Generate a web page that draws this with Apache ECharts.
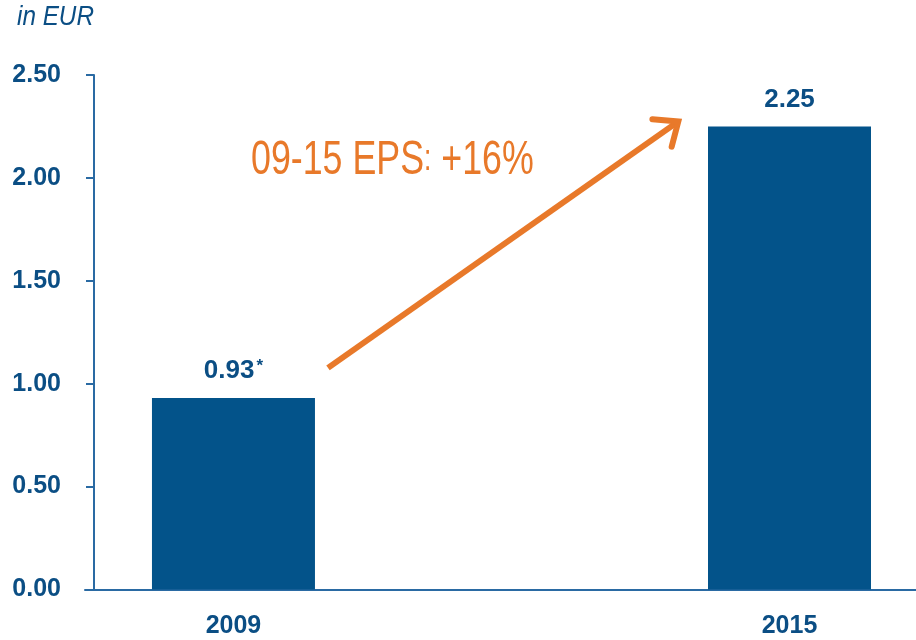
<!DOCTYPE html>
<html>
<head>
<meta charset="utf-8">
<script src="https://cdn.jsdelivr.net/npm/echarts@6/dist/echarts.min.js"></script>
<style>html,body{margin:0;padding:0;background:#fff}#c{width:916px;height:640px}</style>
</head>
<body>
<div id="c"></div>
<script>
const categories = [2009, 2015];
const values = [0.93, 2.25];
const notes = ['*', ''];
const unitLabel = 'in EUR';
const annotation = ['09-15 EPS', ':', ' +16%'];
const arrowFrom = [2010.02, 1.077];
const arrowTo = [2013.8, 2.274];

const BLUE = '#03538A';
const TEXT = '#0B4E84';
const AXIS = '#2A6AA3';
const ORANGE = '#E8792A';
const FONT = '"Liberation Sans", Arial, sans-serif';

const chart = echarts.init(document.getElementById('c'), null, {renderer: 'canvas'});
chart.setOption({
  animation: false,
  grid: {left: 85, right: 0, top: 75, bottom: 50.5, containLabel: false},
  xAxis: {
    type: 'value',
    min: 2007.398, max: 2016.365,
    splitLine: {show: false},
    axisLine: {show: true, lineStyle: {color: AXIS, width: 2}},
    axisTick: {show: false},
    axisLabel: {
      customValues: categories,
      margin: 24,
      color: TEXT, fontWeight: 'bold', fontSize: 25, fontFamily: FONT,
      formatter: v => String(v)
    }
  },
  yAxis: {
    type: 'value', min: 0, max: 2.5, interval: 0.5,
    offset: -9,
    splitLine: {show: false},
    axisLine: {show: true, lineStyle: {color: AXIS, width: 2}},
    axisTick: {show: true, length: 8, lineStyle: {color: AXIS, width: 2}},
    axisLabel: {
      margin: 33,
      color: TEXT, fontWeight: 'bold', fontSize: 25, fontFamily: FONT,
      formatter: v => v.toFixed(2)
    }
  },
  series: [{
    type: 'bar',
    barWidth: 163,
    itemStyle: {color: BLUE},
    data: values.map((v, i) => [categories[i], v]),
    label: {
      show: true, position: 'top', distance: 14,
      formatter: p => '{v|' + p.value[1].toFixed(2) + '}' + (notes[p.dataIndex] ? '{s|' + notes[p.dataIndex] + '}' : ''),
      rich: {
        v: {color: TEXT, fontWeight: 'bold', fontSize: 26, fontFamily: FONT},
        s: {color: TEXT, fontWeight: 'bold', fontSize: 17, fontFamily: FONT, verticalAlign: 'top', padding: [0, 0, 0, 2]}
      }
    }
  }]
});

// arrow anchored in data space
const p0 = chart.convertToPixel({gridIndex: 0}, arrowFrom);
const p1 = chart.convertToPixel({gridIndex: 0}, arrowTo);
const ang = Math.atan2(p1[1] - p0[1], p1[0] - p0[0]);
const headLen = 26, headAng = 0.7;
const h1 = [p1[0] - headLen * Math.cos(ang - headAng), p1[1] - headLen * Math.sin(ang - headAng)];
const h2 = [p1[0] - headLen * Math.cos(ang + headAng), p1[1] - headLen * Math.sin(ang + headAng)];
chart.setOption({
  graphic: [{
    type: 'text', id: 'unit', x: 17, y: 4, scaleX: 0.9,
    style: {text: unitLabel, fill: TEXT, font: 'italic 27px ' + FONT}
  }, {
    type: 'text', id: 'note', x: 251, y: 132, scaleX: 0.73,
    style: {
      text: '{a|' + annotation[0] + '}{b|' + annotation[1] + '}{a|' + annotation[2] + '}',
      rich: {
        a: {fill: ORANGE, fontSize: 49, fontFamily: FONT, lineHeight: 56},
        b: {fill: ORANGE, fontSize: 36, fontFamily: FONT, lineHeight: 56, verticalAlign: 'bottom', padding: [0, 0, 10, 0]}
      }
    }
  }, {
    type: 'line', id: 'shaft',
    shape: {x1: p0[0], y1: p0[1], x2: p1[0] - 2 * Math.cos(ang), y2: p1[1] - 2 * Math.sin(ang)},
    style: {stroke: ORANGE, lineWidth: 6, lineCap: 'butt'}
  }, {
    type: 'polyline', id: 'head',
    shape: {points: [h1, p1, h2]},
    style: {stroke: ORANGE, fill: null, lineWidth: 6, lineCap: 'round', lineJoin: 'miter'}
  }]
});
</script>
</body>
</html>
